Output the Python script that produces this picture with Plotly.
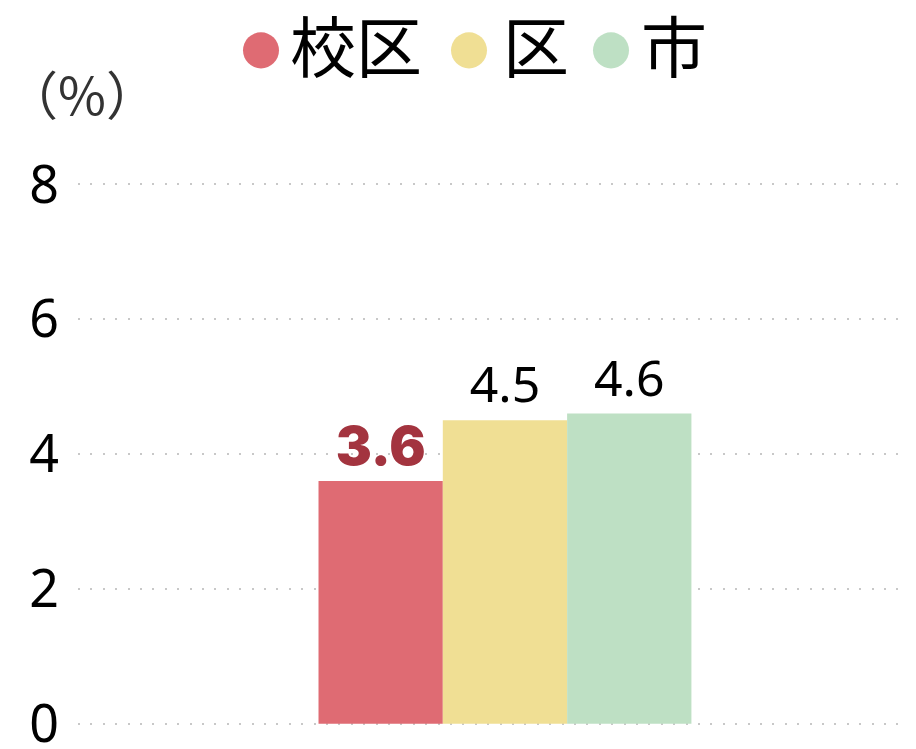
import plotly.graph_objects as go

# ---- data ----
category = ["割合"]
series_names = ["校区", "区", "市"]
series_values = [3.6, 4.5, 4.6]
series_colors = ["#DF6B73", "#F0DF94", "#BEE0C4"]
label_colors = ["#A3343F", "#000000", "#000000"]
y_ticks = [0, 2, 4, 6, 8]
y_range = [-0.05, 8.05]
unit_label = "（%）"

# page body margin offsets the figure by 8px; positions below are in screen pixels
OFF = 8
W, H = 916, 749
UNIT = 67.3          # pixels per y unit
Y0_SCREEN = 723.2    # screen y of value 0
PLOT_LEFT, PLOT_RIGHT = 78, 916
plot_top = Y0_SCREEN - y_range[1] * UNIT
plot_bot = Y0_SCREEN - y_range[0] * UNIT
ML = PLOT_LEFT - OFF
MR = W - (PLOT_RIGHT - OFF)
MT = plot_top - OFF
MB = H - (plot_bot - OFF)
PW = PLOT_RIGHT - PLOT_LEFT
PH = plot_bot - plot_top

def px_x(px):
    return (px - PLOT_LEFT) / PW

def px_y(py):
    return (plot_bot - py) / PH

fig = go.Figure()
for i, (name, val, col) in enumerate(zip(series_names, series_values, series_colors)):
    bold = i == 0
    fig.add_trace(go.Bar(
        x=category, y=[val], name=name,
        marker=dict(color=col, line=dict(width=0)),
        text=[f"{val:.1f}"], textposition="outside",
        textfont=dict(
            family="Inter" if bold else "Noto Sans",
            size=54 if bold else 50,
            color=label_colors[i],
            weight=900 if bold else 400,
        ),
        cliponaxis=False,
        showlegend=False,
    ))

fig.update_layout(
    width=W, height=H,
    margin=dict(l=ML, r=MR, t=MT, b=MB, pad=0, autoexpand=False),
    paper_bgcolor="white", plot_bgcolor="white",
    barmode="group", bargap=0.555, bargroupgap=0,
    showlegend=False,
    font=dict(family="Noto Sans", color="#000000"),
)
fig.update_xaxes(
    type="category", range=[-0.5095, 0.4905],
    showticklabels=False, showgrid=False, zeroline=False, showline=False, ticks="",
    automargin=False,
)
fig.update_yaxes(
    range=y_range, tickvals=y_ticks, ticktext=[str(v) for v in y_ticks],
    tickfont=dict(family="Noto Sans", size=52, color="#000000"),
    showgrid=True, gridcolor="#C8C8C8", gridwidth=2, griddash="2px,10.4px",
    zeroline=False, showline=False, ticks="", ticklabelstandoff=18,
    automargin=False,
)

# legend (circles + labels) drawn above the plot
legend_items = [
    (261, 292),
    (469, 505),
    (611, 643),
]
r = 18
cy = 51
for (cx, tx), name, col in zip(legend_items, series_names, series_colors):
    fig.add_shape(type="circle", xref="paper", yref="paper",
                  x0=px_x(cx - r), x1=px_x(cx + r), y0=px_y(cy + r), y1=px_y(cy - r),
                  fillcolor=col, line=dict(width=0))
    fig.add_annotation(xref="paper", yref="paper", x=px_x(tx - 4), y=px_y(44),
                       xanchor="left", yanchor="middle", showarrow=False,
                       text=name, font=dict(family="Noto Sans CJK JP", size=66, color="#000000"))

fig.add_annotation(xref="paper", yref="paper", x=px_x(4), y=px_y(93),
                   xanchor="left", yanchor="middle", showarrow=False,
                   text=unit_label, font=dict(family="Noto Sans CJK JP", size=52, color="#333333"))

fig.write_html("out.html")
